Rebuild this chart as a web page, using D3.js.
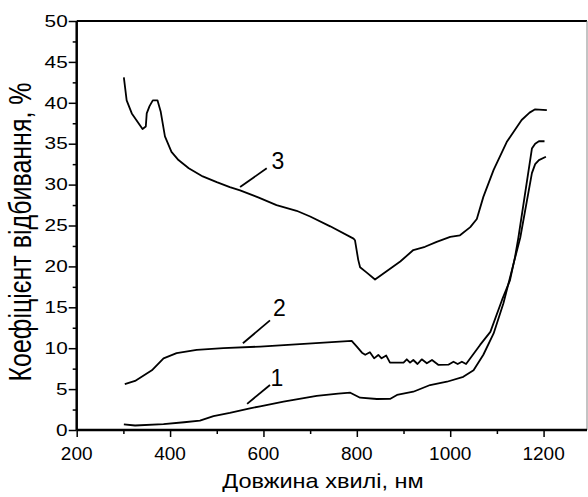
<!DOCTYPE html>
<html>
<head>
<meta charset="utf-8">
<script src="https://cdn.jsdelivr.net/npm/d3@7"></script>
<style>
  body { margin: 0; background: #fff; }
  text { font-family: Arial, "Liberation Sans", sans-serif; fill: #000; }
</style>
</head>
<body>
<svg id="chart" width="588" height="497"></svg>
<script>
// curve 1
const wave1 = [301, 325, 386, 430, 464, 493, 528, 571, 593, 643, 714, 760, 786, 807, 843, 871, 886, 921, 957, 993, 1028, 1050, 1071, 1093, 1114, 1136, 1150, 1175, 1182, 1190, 1205];
const refl1 = [0.7, 0.55, 0.73, 0.95, 1.15, 1.7, 2.1, 2.65, 2.9, 3.46, 4.16, 4.45, 4.56, 3.95, 3.79, 3.8, 4.28, 4.68, 5.5, 5.9, 6.5, 7.3, 9.2, 11.8, 15.5, 20.4, 23.5, 31.4, 32.5, 33.0, 33.4];
// curve 2
const wave2 = [303, 325, 361, 386, 414, 457, 514, 593, 678, 789, 800, 811, 818, 828, 837, 846, 853, 863, 871, 900, 907, 914, 921, 930, 939, 950, 961, 975, 996, 1007, 1016, 1025, 1034, 1064, 1086, 1111, 1128, 1139, 1146, 1175, 1182, 1190, 1202];
const refl2 = [5.6, 6.0, 7.3, 8.76, 9.4, 9.8, 10.0, 10.2, 10.5, 10.9, 10.2, 9.45, 9.2, 9.5, 8.76, 9.17, 8.76, 9.1, 8.23, 8.23, 8.64, 8.23, 8.56, 8.07, 8.64, 8.15, 8.56, 7.95, 7.98, 8.35, 8.07, 8.35, 8.07, 10.4, 12.0, 15.9, 18.3, 21.2, 23.5, 34.4, 35.0, 35.3, 35.3];
// curve 3
const wave3 = [301, 307, 318, 341, 348, 350, 356, 363, 373, 380, 389, 403, 418, 440, 470, 500, 528, 550, 590, 628, 671, 700, 743, 793, 796, 803, 807, 820, 839, 878, 893, 921, 946, 971, 1000, 1021, 1043, 1057, 1071, 1093, 1121, 1153, 1170, 1182, 1207];
const refl3 = [43.1, 40.3, 38.7, 36.8, 37.1, 38.7, 39.6, 40.3, 40.3, 38.9, 35.9, 34.0, 33.0, 32.0, 31.0, 30.3, 29.7, 29.3, 28.4, 27.5, 26.8, 26.1, 24.9, 23.4, 23.2, 20.8, 19.9, 19.3, 18.4, 20.0, 20.6, 22.0, 22.4, 23.0, 23.6, 23.8, 24.8, 25.8, 28.5, 31.8, 35.2, 37.9, 38.8, 39.2, 39.1];

const xTicks = [200, 400, 600, 800, 1000, 1200];
const yTicks = [0, 5, 10, 15, 20, 25, 30, 35, 40, 45, 50];

// curve labels with leader lines (data coords)
const labelNames = ["1", "2", "3"];
const labelLeaders = [[[565, 3.2], [614, 5.5]], [[556, 10.6], [614, 13.4]], [[550, 29.7], [607, 32.0]]];
const labelAt = [[629, 5.4], [634, 13.9], [631, 31.9]];

let svg = d3.select("#chart");
const mLeft = 76.7, mRight = 587, mTop = 21, mBottom = 430;

let x = d3.scaleLinear().domain([200, 1293]).range([mLeft, mRight]);
let y = d3.scaleLinear().domain([0, 50]).range([mBottom, mTop]);

// frame
svg.append("line").attr("x1", mLeft).attr("x2", mRight).attr("y1", mTop).attr("y2", mTop)
    .attr("stroke", "#000").attr("stroke-width", 2);
svg.append("line").attr("x1", mRight).attr("x2", mRight).attr("y1", mTop).attr("y2", mBottom)
    .attr("stroke", "#888").attr("stroke-width", 1);

// x axis
let xAxis = svg.append("g").attr("transform", `translate(0,${mBottom})`)
    .call(d3.axisBottom(x).tickValues(d3.range(200, 1300, 100)).tickSize(4).tickFormat(""));
xAxis.selectAll(".tick line").filter(d => xTicks.includes(d)).attr("y2", 7);
xAxis.select(".domain").attr("stroke-width", 2.5).attr("d", `M${mLeft},0H${mRight}`);
xAxis.selectAll(".tick line").attr("stroke-width", 1.5);
svg.append("g").selectAll("text").data(xTicks).enter().append("text")
    .attr("x", d => x(d)).attr("y", mBottom + 30)
    .attr("text-anchor", "middle").style("font-size", "19px")
    .text(d => d);

// y axis
let yAxis = svg.append("g").attr("transform", `translate(${mLeft},0)`)
    .call(d3.axisLeft(y).tickValues(d3.range(0, 51, 2.5)).tickSize(4).tickFormat(""));
yAxis.selectAll(".tick line").filter(d => yTicks.includes(d)).attr("x2", -8);
yAxis.select(".domain").attr("stroke-width", 2.5).attr("d", `M0,${mBottom}V${mTop}`);
yAxis.selectAll(".tick line").attr("stroke-width", 1.5);
svg.append("g").selectAll("text").data(yTicks).enter().append("text")
    .attr("transform", d => `translate(${mLeft - 9},${y(d)}) scale(1.3,1)`)
    .attr("dy", "0.36em")
    .attr("text-anchor", "end").style("font-size", "16px")
    .text(d => d);

// axis titles
svg.append("text").attr("transform", "translate(323,488) scale(1.12,1)")
    .attr("text-anchor", "middle").style("font-size", "21px")
    .text("Довжина хвилі, нм");
svg.append("text").attr("transform", "translate(31,232) rotate(-90) scale(1,1.25)")
    .attr("text-anchor", "middle").style("font-size", "25px")
    .text("Коефіцієнт відбивання, %");

// curves
let line = d3.line().x(d => x(d[0])).y(d => y(d[1]));
[[wave1, refl1], [wave2, refl2], [wave3, refl3]].forEach(s => {
    svg.append("path")
        .datum(d3.zip(s[0], s[1]))
        .attr("d", line)
        .attr("fill", "none")
        .attr("stroke", "#000")
        .attr("stroke-width", 1.8)
        .attr("stroke-linejoin", "round");
});

// labels
labelNames.forEach((n, i) => {
    svg.append("line")
        .attr("x1", x(labelLeaders[i][0][0])).attr("y1", y(labelLeaders[i][0][1]))
        .attr("x2", x(labelLeaders[i][1][0])).attr("y2", y(labelLeaders[i][1][1]))
        .attr("stroke", "#000").attr("stroke-width", 1.8);
    svg.append("text")
        .attr("x", x(labelAt[i][0])).attr("y", y(labelAt[i][1]))
        .attr("text-anchor", "middle").style("font-size", "23px")
        .text(n);
});
</script>
</body>
</html>
